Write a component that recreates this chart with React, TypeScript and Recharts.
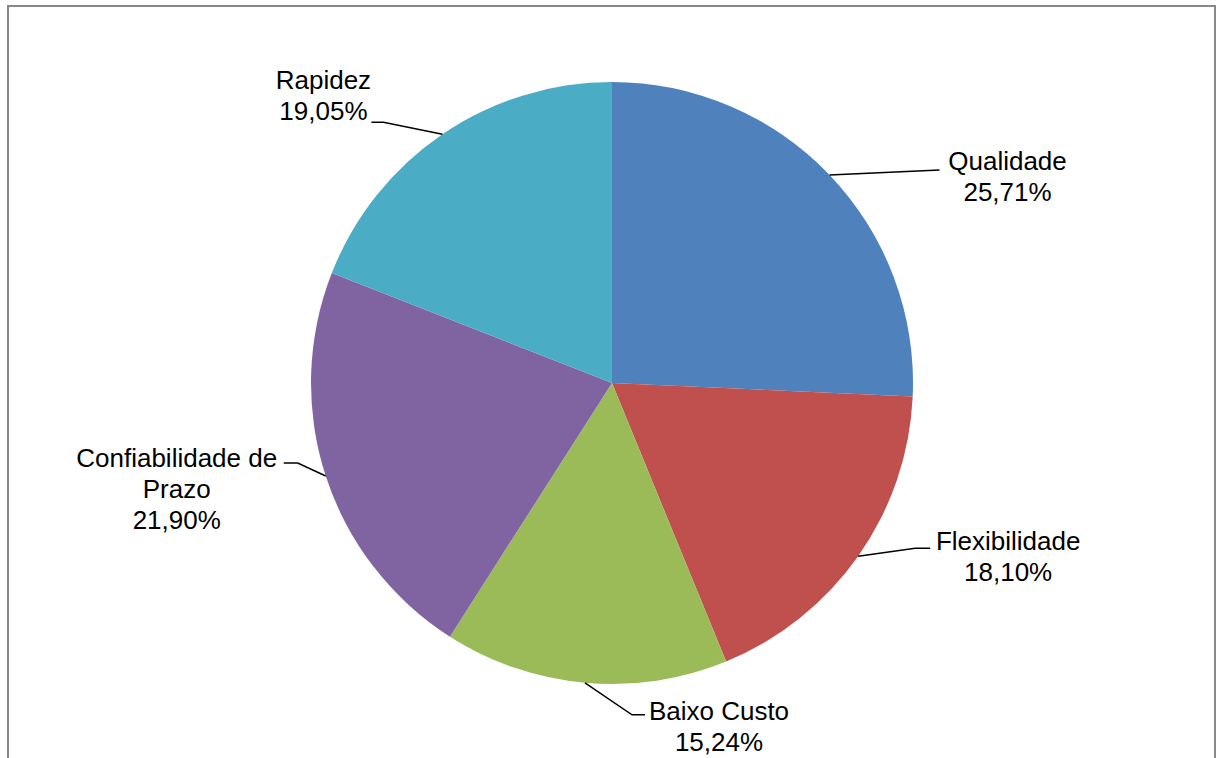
import { PieChart, Pie, Cell } from 'recharts'

const categories = ['Qualidade', 'Flexibilidade', 'Baixo Custo', 'Confiabilidade de Prazo', 'Rapidez']
const shares = [25.71, 18.1, 15.24, 21.9, 19.05]
const colors = ['#4F81BD', '#C0504D', '#9BBB59', '#8064A2', '#4BACC6']

const data = categories.map((name, i) => ({ name, value: shares[i] }))

// label lines as wrapped in the original
const nameLines: Record<string, string[]> = {
  'Confiabilidade de Prazo': ['Confiabilidade de', 'Prazo'],
}

// leader geometry: elbow offset from slice edge, horizontal tail, text offset from line end
const labelLayout: Record<string, { elbow: [number, number]; tail: number; text: [number, number] }> = {
  Qualidade: { elbow: [110, -5], tail: 0, text: [68, -9] },
  Flexibilidade: { elbow: [57, -8], tail: 15, text: [78, -7] },
  'Baixo Custo': { elbow: [47, 32], tail: 13, text: [74, -4] },
  'Confiabilidade de Prazo': { elbow: [-28, -13], tail: -14, text: [-107, -5] },
  Rapidez: { elbow: [-59, -12], tail: -12, text: [-48, -42] },
}

const RAD = Math.PI / 180
const FONT = '"Liberation Sans", Arial, sans-serif'

function renderLabel(props: any) {
  const { cx, cy, midAngle, outerRadius, name, value } = props
  const ex = cx + outerRadius * Math.cos(-midAngle * RAD)
  const ey = cy + outerRadius * Math.sin(-midAngle * RAD)
  const lay = labelLayout[name]
  const bx = ex + lay.elbow[0]
  const by = ey + lay.elbow[1]
  const tx = bx + lay.tail
  const lines = [...(nameLines[name] || [name]), value.toFixed(2).replace('.', ',') + '%']
  return (
    <g key={name}>
      <polyline points={`${ex},${ey} ${bx},${by} ${tx},${by}`} fill="none" stroke="#000" strokeWidth={1.5} />
      <text
        x={tx + lay.text[0]}
        y={by + lay.text[1]}
        textAnchor="middle"
        fontFamily={FONT}
        fontSize={26}
        fill="#000"
      >
        {lines.map((l, i) => (
          <tspan key={i} x={tx + lay.text[0]} dy={i === 0 ? 9 : 31}>
            {l}
          </tspan>
        ))}
      </text>
    </g>
  )
}

export default function App() {
  return (
    <div style={{ position: 'absolute', left: 0, top: 0, width: 1218, height: 758, overflow: 'hidden', background: '#fff' }}>
      <div
        style={{
          position: 'absolute',
          left: 7,
          top: 5,
          width: 1205,
          height: 800,
          border: '2px solid #878787',
        }}
      />
      <div style={{ position: 'absolute', left: 0, top: 0 }}>
        <PieChart width={1218} height={758} margin={{ top: 0, right: 0, bottom: 0, left: 0 }}>
          <Pie
            data={data}
            dataKey="value"
            nameKey="name"
            cx={612}
            cy={383}
            outerRadius={301}
            startAngle={90}
            endAngle={-270}
            stroke="none"
            label={renderLabel}
            labelLine={false}
            isAnimationActive={false}
          >
            {data.map((d, i) => (
              <Cell key={d.name} fill={colors[i]} />
            ))}
          </Pie>
        </PieChart>
      </div>
    </div>
  )
}
